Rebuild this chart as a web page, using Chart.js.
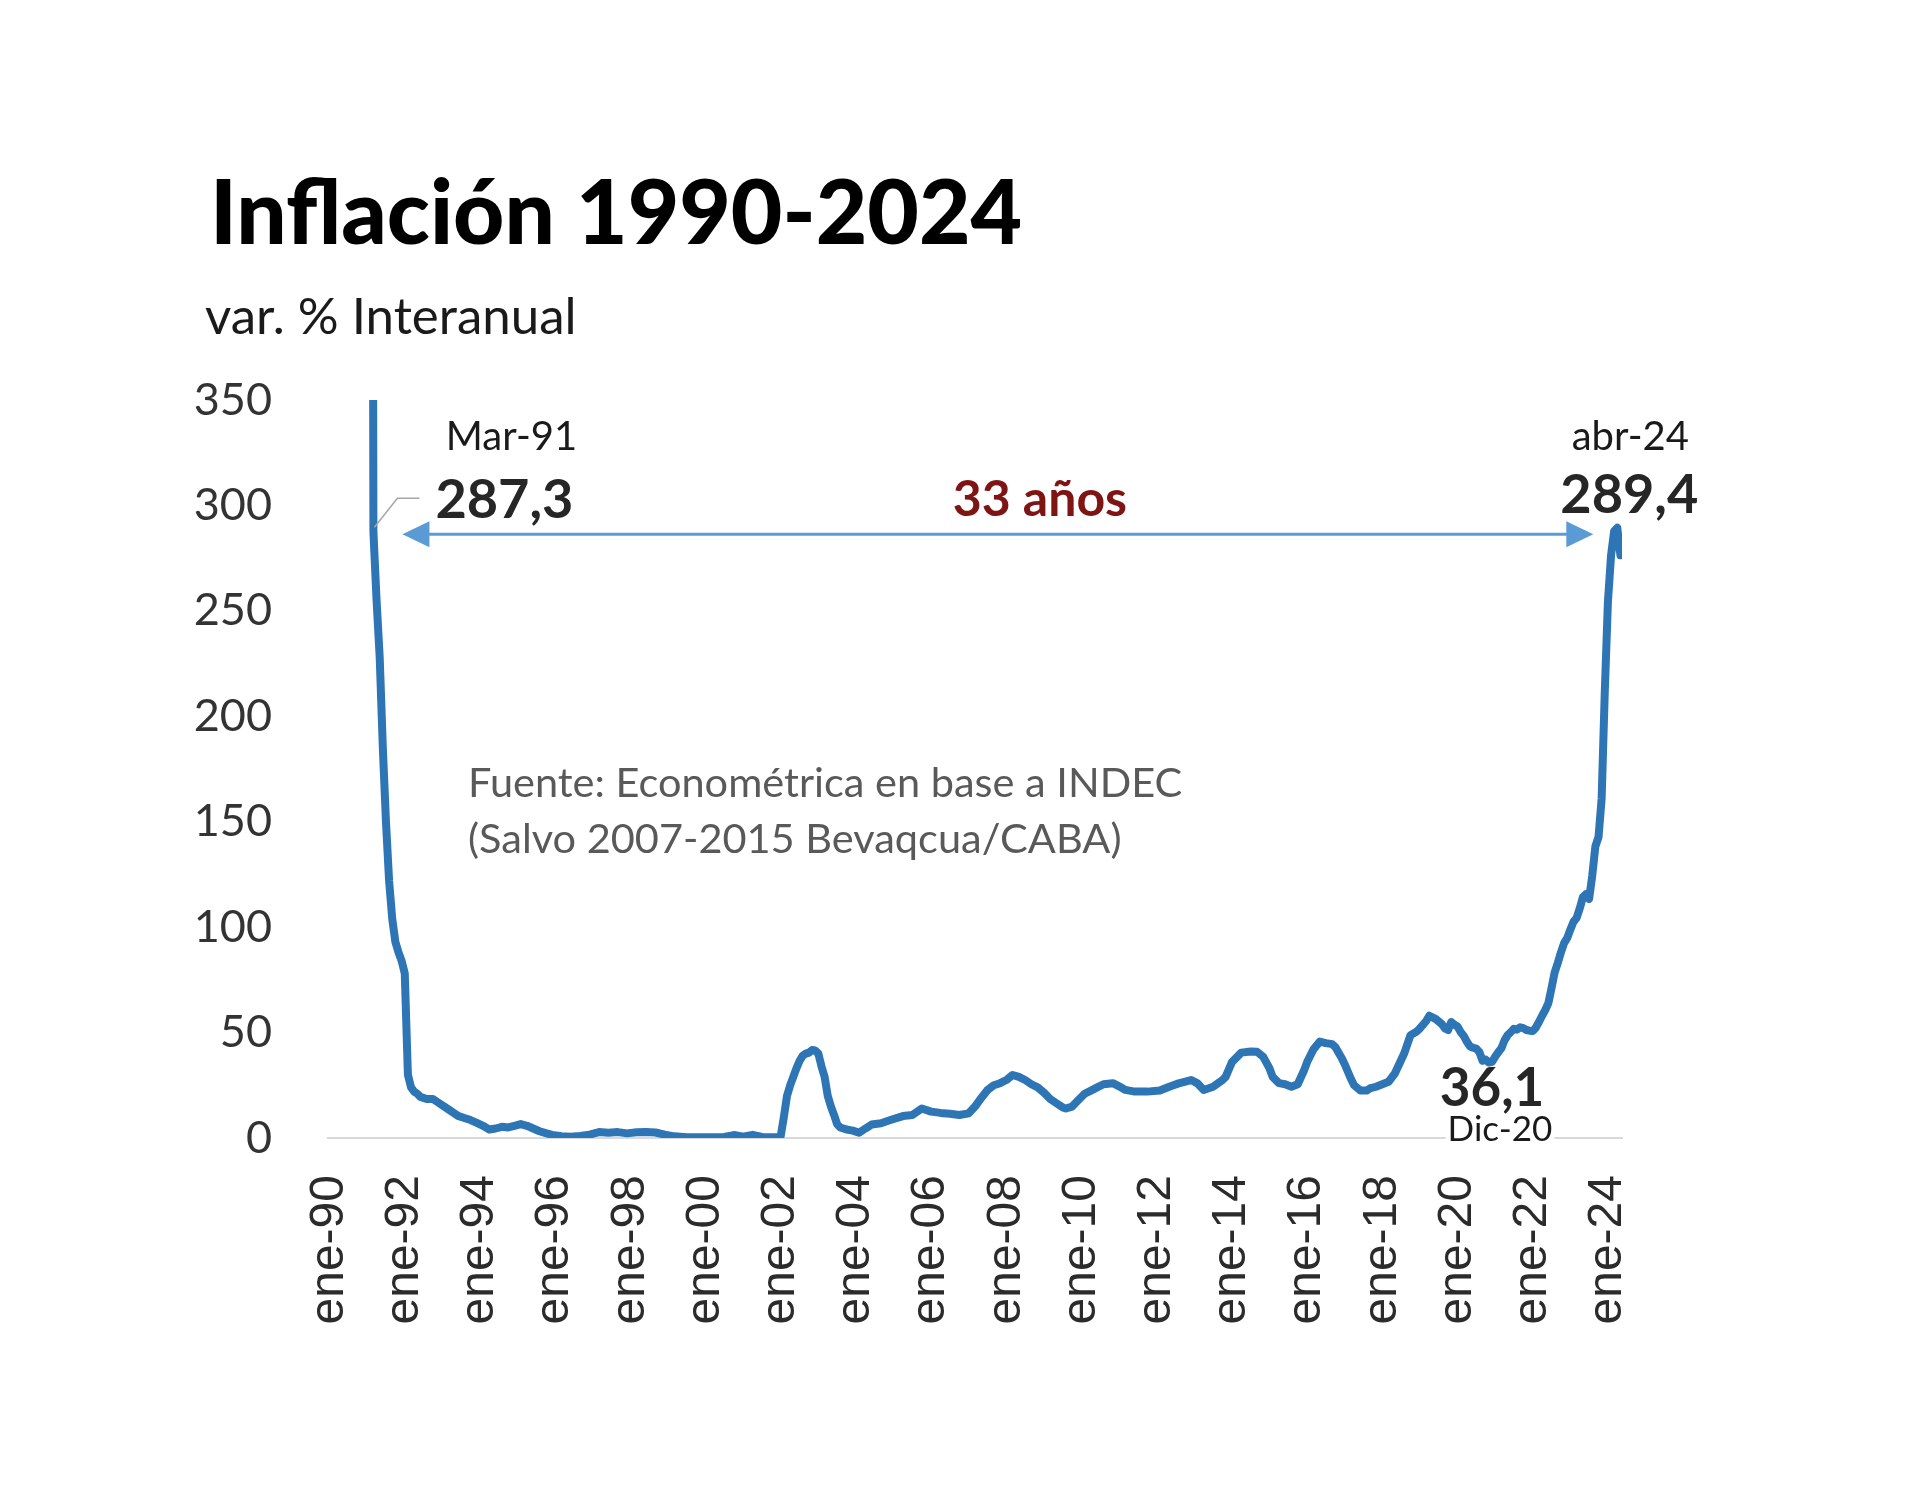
<!DOCTYPE html>
<html lang="es">
<head>
<meta charset="utf-8">
<title>Inflación 1990-2024</title>
<script src="https://cdn.jsdelivr.net/npm/chart.js@4.4.1/dist/chart.umd.min.js"></script>
<style>
  html, body { margin: 0; padding: 0; background: #ffffff; }
  #wrap { position: relative; width: 1920px; height: 1486px; overflow: hidden; }
  #grafico { position: absolute; left: 0; top: 0; }
  .texto { position: absolute; white-space: nowrap; font-family: Lato, sans-serif; }
  #titulo { left: 210px; top: 157px; font-size: 89px; line-height: 106.8px; font-weight: 900; color: #000; }
  #subtitulo { left: 205px; top: 284px; font-size: 51px; line-height: 61.2px; color: #1a1a1a; }
  #fuente { left: 468px; top: 753px; font-size: 41.5px; line-height: 56px; color: #595959; }
</style>
</head>
<body>
<div id="wrap">
  <canvas id="grafico" width="1920" height="1486"></canvas>
  <div class="texto" id="titulo">Inflación 1990-2024</div>
  <div class="texto" id="subtitulo">var. % Interanual</div>
  <div class="texto" id="fuente">Fuente: Econométrica en base a INDEC<br>(Salvo 2007-2015 Bevaqcua/CABA)</div>
</div>
<script>
// Serie: variación % interanual (mes, valor); los primeros valores quedan fuera de escala
const meses = [
    '1991-01', '1991-02', '1991-03', '1991-04', '1991-05', '1991-06', '1991-07', '1991-08', '1991-09', '1991-10', '1991-11', '1991-12',
    '1992-01', '1992-02', '1992-03', '1992-04', '1992-05', '1992-06', '1992-08', '1992-10', '1992-12',
    '1993-02', '1993-04', '1993-06', '1993-08', '1993-10', '1993-12',
    '1994-02', '1994-04', '1994-06', '1994-08', '1994-10', '1994-12',
    '1995-02', '1995-04', '1995-06', '1995-08', '1995-10', '1995-12',
    '1996-03', '1996-06', '1996-09', '1996-12',
    '1997-03', '1997-06', '1997-09', '1997-12',
    '1998-03', '1998-06', '1998-09', '1998-12',
    '1999-03', '1999-07', '1999-11',
    '2000-03', '2000-07', '2000-10',
    '2001-01', '2001-04', '2001-07', '2001-10', '2001-12',
    '2002-01', '2002-02', '2002-03', '2002-04', '2002-05', '2002-06', '2002-07', '2002-08', '2002-09', '2002-10', '2002-11', '2002-12',
    '2003-01', '2003-02', '2003-03', '2003-04', '2003-05', '2003-06', '2003-07', '2003-08', '2003-10', '2003-12',
    '2004-02', '2004-04', '2004-06', '2004-09', '2004-12',
    '2005-04', '2005-07', '2005-10',
    '2006-01', '2006-04', '2006-07', '2006-10',
    '2007-01', '2007-03', '2007-05', '2007-07', '2007-09', '2007-11',
    '2008-01', '2008-03', '2008-05', '2008-07', '2008-09', '2008-11',
    '2009-01', '2009-03', '2009-05', '2009-07', '2009-08', '2009-10', '2009-12',
    '2010-02', '2010-04', '2010-06', '2010-08', '2010-11',
    '2011-01', '2011-03', '2011-06', '2011-10',
    '2012-02', '2012-05', '2012-08', '2012-12',
    '2013-02', '2013-04', '2013-07', '2013-10', '2013-11',
    '2014-01', '2014-04', '2014-07', '2014-09', '2014-11',
    '2015-01', '2015-02', '2015-04', '2015-06', '2015-08', '2015-10', '2015-12',
    '2016-01', '2016-03', '2016-05', '2016-07', '2016-09', '2016-10', '2016-12',
    '2017-01', '2017-03', '2017-04', '2017-06', '2017-08', '2017-09', '2017-11',
    '2018-01', '2018-03', '2018-05', '2018-07', '2018-08', '2018-10', '2018-12',
    '2019-01', '2019-03', '2019-04', '2019-06', '2019-08', '2019-09', '2019-10', '2019-11', '2019-12',
    '2020-01', '2020-02', '2020-03', '2020-04', '2020-05', '2020-06', '2020-07', '2020-08', '2020-09', '2020-10', '2020-11', '2020-12',
    '2021-01', '2021-02', '2021-03', '2021-04', '2021-05', '2021-06', '2021-07', '2021-08', '2021-09', '2021-10', '2021-11', '2021-12',
    '2022-01', '2022-02', '2022-03', '2022-04', '2022-05', '2022-06', '2022-07', '2022-08', '2022-09', '2022-10', '2022-11', '2022-12',
    '2023-01', '2023-02', '2023-03', '2023-04', '2023-05', '2023-06', '2023-07', '2023-08', '2023-09', '2023-10', '2023-11', '2023-12',
    '2024-01', '2024-02', '2024-03', '2024-04', '2024-05'
];
const inflacion = [
    1340, 1000, 287.3, 255, 228, 185, 150, 122, 104, 93, 88, 84,
    78, 30, 24, 22, 21, 19.5, 18.5, 18.5, 16.5,
    14.5, 12.5, 10.5, 9.5, 8.5, 7.2,
    5.8, 4.0, 4.5, 5.3, 5.0, 5.8,
    6.6, 5.8, 4.5, 3.2, 2.3, 1.5,
    0.8, 0.6, 1.0, 1.6,
    2.8, 2.5, 2.8, 2.2,
    2.7, 2.9, 2.6, 1.6,
    0.8, 0.4, 0.3,
    0.4, 0.5, 1.4,
    0.6, 1.5, 0.5, 0.3, 0.3,
    1.0, 10, 20, 25, 29, 33, 36.5, 39, 40, 40.5, 41.7, 41.5,
    40, 34, 29, 20, 15, 11, 6.5, 5, 4, 3.5,
    2.5, 4.5, 6.4, 7, 8.5,
    10.4, 10.9, 14,
    12.5, 11.9, 11.5, 10.9,
    11.7, 14.9, 19, 22.8, 25, 26,
    27.5, 29.9, 29, 27.5, 25.5, 24,
    21.5, 18.5, 16.5, 14.5, 14, 14.9, 18,
    21, 22.5, 24, 25.5, 26,
    24.5, 22.8, 22, 22,
    22.5, 24.3, 25.9, 27.5,
    25.9, 22.8, 24.3, 27.5, 29,
    36, 40.5, 41, 40.9, 38.5,
    33, 29, 26, 25.5, 24.3, 25.5, 32,
    36, 42, 45.7, 45, 44.5, 43.2, 38,
    35, 28, 25, 22.5, 22.5, 23.5, 24.3,
    25.5, 26.7, 30.6, 37, 40.2, 48.8, 50.5,
    52, 55.5, 58, 56.5, 54, 52, 51.2, 55, 53.8,
    52.9, 50.3, 48.4, 45.6, 43.4, 42.8, 42.4, 40.7, 36.6, 37.2, 35.8, 36.1,
    38.5, 40.7, 42.6, 46.3, 48.8, 50.2, 51.8, 51.4, 52.5, 52.1, 51.2, 50.9,
    50.7, 52.3, 55.1, 58.0, 60.7, 64.0, 71.0, 78.5, 83.0, 88.0, 92.4, 94.8,
    98.8, 102.5, 104.3, 108.8, 114.2, 115.6, 113.4, 124.4, 138.3, 142.7, 160.9, 211.4,
    254.2, 276.2, 287.9, 289.4, 276.4
];

// Etiquetas del eje X (cada dos años)
const etiquetasX = ['ene-90', 'ene-92', 'ene-94', 'ene-96', 'ene-98', 'ene-00', 'ene-02', 'ene-04', 'ene-06',
    'ene-08', 'ene-10', 'ene-12', 'ene-14', 'ene-16', 'ene-18', 'ene-20', 'ene-22', 'ene-24'];
const ticksY = [0, 50, 100, 150, 200, 250, 300, 350];

// Puntos destacados
const destacadosMes = ['1991-03', '2024-04', '2020-12'];
const destacadosValor = [287.3, 289.4, 36.1];
const destacadosFecha = ['Mar-91', 'abr-24', 'Dic-20'];
const textoPeriodo = '33 años';

// mes 'AAAA-MM' -> meses desde ene-90
function indiceMes(m) {
    const partes = m.split('-');
    return (parseInt(partes[0], 10) - 1990) * 12 + parseInt(partes[1], 10) - 1;
}
// 'ene-90' -> meses desde ene-90
function indiceEtiqueta(e) {
    const aa = parseInt(e.split('-')[1], 10);
    return ((aa >= 90 ? 1900 : 2000) + aa - 1990) * 12;
}
function formatoValor(v) {
    return v.toFixed(1).replace('.', ',');
}

const puntos = meses.map((m, i) => ({ x: indiceMes(m), y: inflacion[i] }));
const ticksMes = etiquetasX.map(indiceEtiqueta);

// Anotaciones dibujadas sobre el grafico
const anotaciones = {
    id: 'anotaciones',
    afterDraw(chart) {
        const ctx = chart.ctx;
        const xs = chart.scales.x;
        const ys = chart.scales.y;
        const p = destacadosMes.map((m, i) => ({
            x: xs.getPixelForValue(indiceMes(m)),
            y: ys.getPixelForValue(destacadosValor[i])
        }));

        ctx.save();
        ctx.textAlign = 'center';
        ctx.textBaseline = 'middle';

        // Linea guia de Mar-91
        ctx.strokeStyle = '#a6a6a6';
        ctx.lineWidth = 1.5;
        ctx.beginPath();
        ctx.moveTo(p[0].x + 1, p[0].y - 5);
        ctx.lineTo(p[0].x + 24, p[0].y - 34);
        ctx.lineTo(p[0].x + 46, p[0].y - 34);
        ctx.stroke();

        // Flecha doble entre los dos picos
        const ay = p[0].y + 2;
        const x1 = p[0].x + 29;
        const x2 = p[1].x - 24;
        ctx.strokeStyle = '#5b9bd5';
        ctx.fillStyle = '#5b9bd5';
        ctx.lineWidth = 3;
        ctx.beginPath();
        ctx.moveTo(x1 + 20, ay);
        ctx.lineTo(x2 - 20, ay);
        ctx.stroke();
        ctx.beginPath();
        ctx.moveTo(x1, ay);
        ctx.lineTo(x1 + 27, ay - 13);
        ctx.lineTo(x1 + 27, ay + 13);
        ctx.closePath();
        ctx.fill();
        ctx.beginPath();
        ctx.moveTo(x2, ay);
        ctx.lineTo(x2 - 27, ay - 13);
        ctx.lineTo(x2 - 27, ay + 13);
        ctx.closePath();
        ctx.fill();

        ctx.fillStyle = '#7f1414';
        ctx.font = 'bold 50px Lato';
        ctx.fillText(textoPeriodo, (x1 + x2) / 2 + 42, ay - 34);

        // Mar-91
        ctx.fillStyle = '#1a1a1a';
        ctx.font = '40px Lato';
        ctx.fillText(destacadosFecha[0], p[0].x + 138, p[0].y - 95);
        ctx.fillStyle = '#262626';
        ctx.font = 'bold 54px Lato';
        ctx.fillText(formatoValor(destacadosValor[0]), p[0].x + 131, p[0].y - 32);

        // abr-24
        ctx.fillStyle = '#1a1a1a';
        ctx.font = '40px Lato';
        ctx.fillText(destacadosFecha[1], p[1].x + 13, p[1].y - 91);
        ctx.fillStyle = '#262626';
        ctx.font = 'bold 54px Lato';
        ctx.fillText(formatoValor(destacadosValor[1]), p[1].x + 12, p[1].y - 32);

        // Dic-20
        ctx.font = 'bold 53px Lato';
        ctx.fillText(formatoValor(destacadosValor[2]), p[2].x, p[2].y + 27);
        ctx.font = '35px Lato';
        const w = ctx.measureText(destacadosFecha[2]).width;
        ctx.fillStyle = '#ffffff';
        ctx.fillRect(p[2].x + 8 - w / 2 - 2, p[2].y + 52, w + 4, 32);
        ctx.fillStyle = '#1a1a1a';
        ctx.fillText(destacadosFecha[2], p[2].x + 8, p[2].y + 68);

        ctx.restore();
    }
};

const ctx = document.getElementById('grafico').getContext('2d');
const chart = new Chart(ctx, {
    type: 'line',
    data: {
        datasets: [{
            label: 'Inflación var. % interanual',
            data: puntos,
            borderColor: '#2e75b6',
            borderWidth: 8,
            borderJoinStyle: 'round',
            borderCapStyle: 'round',
            pointRadius: 0,
            tension: 0,
            fill: false,
            clip: 0
        }]
    },
    options: {
        responsive: false,
        animation: false,
        layout: {
            padding: { left: 0, top: 400, right: 298, bottom: 0 }
        },
        plugins: {
            legend: { display: false },
            tooltip: { enabled: false }
        },
        scales: {
            x: {
                type: 'linear',
                min: -0.5,
                max: 412.5,
                grid: { display: false, drawTicks: false },
                border: { display: true, color: '#d9d9d9', width: 2 },
                afterBuildTicks: function(axis) {
                    axis.ticks = ticksMes.map(v => ({ value: v }));
                },
                afterFit: function(axis) {
                    axis.height = 348;
                },
                ticks: {
                    autoSkip: false,
                    minRotation: 90,
                    maxRotation: 90,
                    padding: 37,
                    color: '#2b2b2b',
                    font: { family: 'Liberation Sans', size: 48 },
                    callback: function(value, index) {
                        return etiquetasX[index];
                    }
                }
            },
            y: {
                min: 0,
                max: 350,
                grid: { display: false, drawTicks: false },
                border: { display: false },
                afterBuildTicks: function(axis) {
                    axis.ticks = ticksY.map(v => ({ value: v }));
                },
                afterFit: function(axis) {
                    axis.width = 328;
                },
                ticks: {
                    padding: 56,
                    color: '#333333',
                    font: { family: 'Lato', size: 45 }
                }
            }
        }
    },
    plugins: [anotaciones]
});
</script>
</body>
</html>
